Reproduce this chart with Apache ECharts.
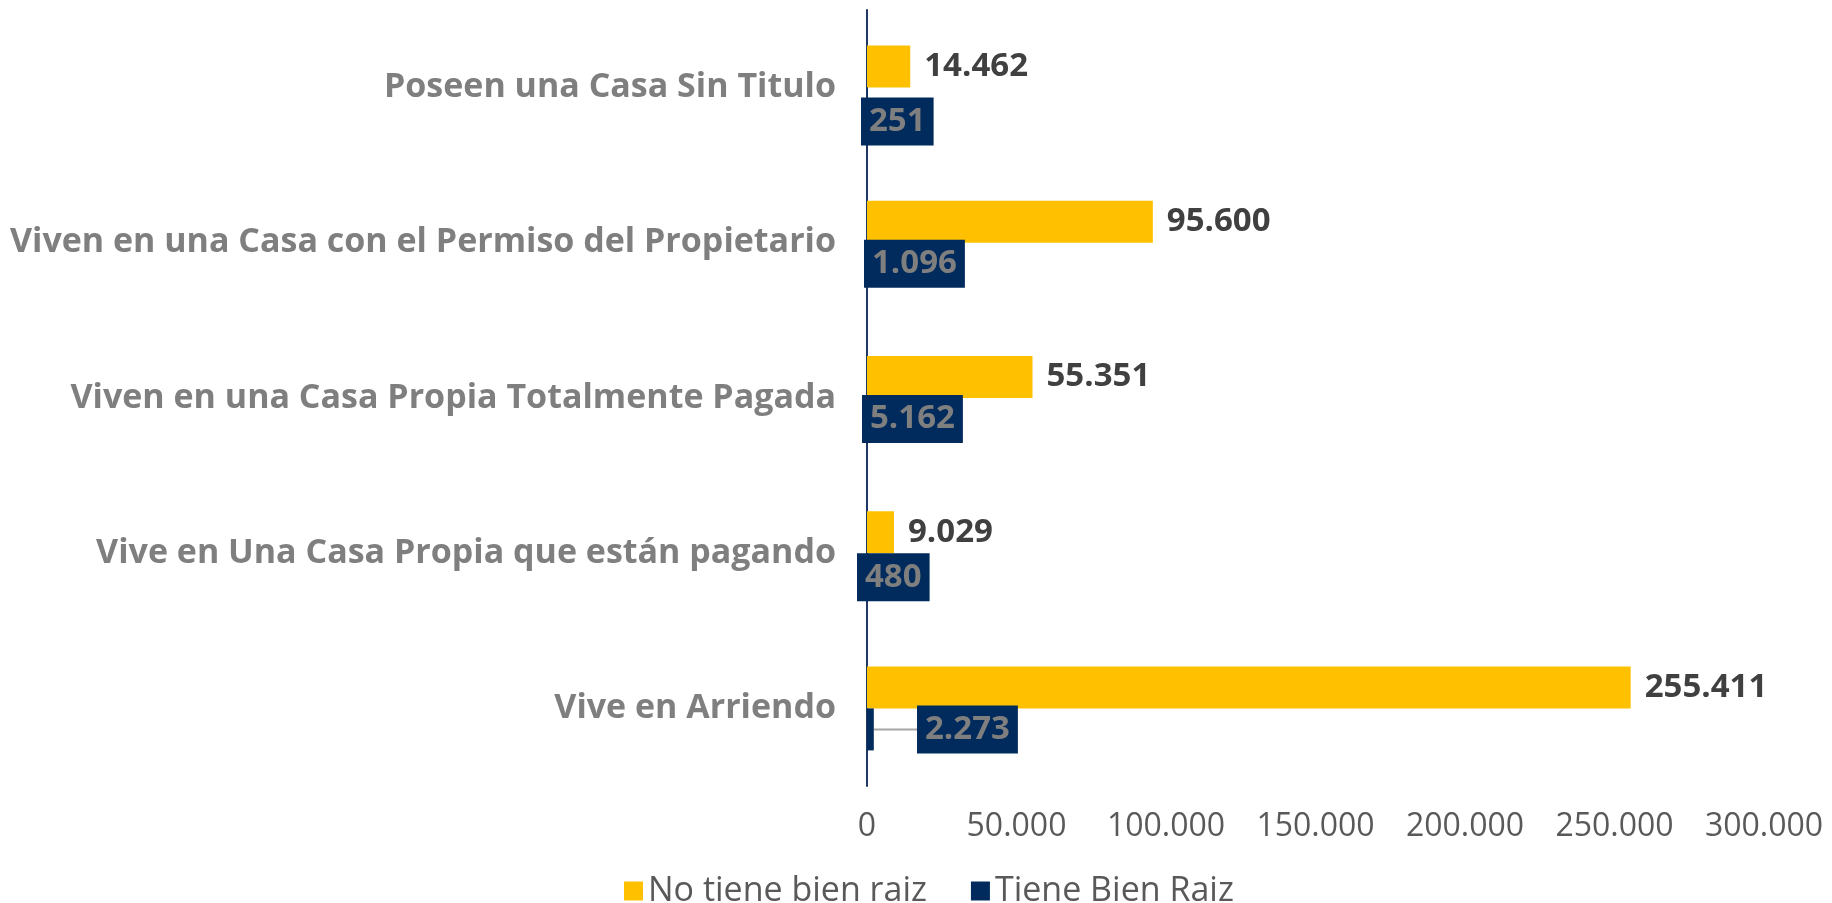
<!DOCTYPE html>
<html>
<head>
<meta charset="utf-8">
<script src="https://cdn.jsdelivr.net/npm/echarts@6/dist/echarts.min.js"></script>
<style>
html,body{margin:0;padding:0;background:#fff;}
#chart{width:1832px;height:903px;}
</style>
</head>
<body>
<div id="chart"></div>
<script>
const categories = [
  'Poseen una Casa Sin Titulo',
  'Viven en una Casa con el Permiso del Propietario',
  'Viven en una Casa Propia Totalmente Pagada',
  'Vive en Una Casa Propia que están pagando',
  'Vive en Arriendo'
];
const seriesNames = ['No tiene bien raiz', 'Tiene Bien Raiz'];
const noTieneValues = [14462, 95600, 55351, 9029, 255411];
const tieneValues = [251, 1096, 5162, 480, 2273];
const xTicks = [0, 50000, 100000, 150000, 200000, 250000, 300000];

const FONT = 'Open Sans';
const YELLOW = '#ffc000';
const NAVY = '#012b5c';
const BAR_W = 42;

// label placement tweaks (pixels) for the navy data-label boxes
const navyLabelShift = [[-6, 13], [-3, 0], [-5, 0], [-10, 3], [50, 0]];

function fmt(v) {
  return String(v).replace(/\B(?=(\d{3})+(?!\d))/g, '.');
}

const tieneData = tieneValues.map(function (v, i) {
  const s = navyLabelShift[i];
  const item = { value: v, label: { position: [s[0], BAR_W / 2 + s[1]] } };
  if (i === 4) {
    item.labelLine = { show: true, lineStyle: { color: '#a6a6a6', width: 2 } };
  }
  return item;
});

const chart = echarts.init(document.getElementById('chart'));
chart.setOption({
  animation: false,
  backgroundColor: '#ffffff',
  grid: { left: 867, right: 68, top: 10, bottom: 117, containLabel: false },
  legend: {
    data: seriesNames,
    left: 619,
    top: 869,
    icon: 'rect',
    itemWidth: 19,
    itemHeight: 19,
    itemGap: 44,
    textStyle: { fontFamily: FONT, fontSize: 34, color: '#595959' }
  },
  xAxis: {
    type: 'value',
    min: xTicks[0],
    max: xTicks[xTicks.length - 1],
    interval: xTicks[1] - xTicks[0],
    axisLine: { show: false },
    axisTick: { show: false },
    splitLine: { show: false },
    axisLabel: {
      margin: 25,
      fontFamily: FONT,
      fontSize: 32,
      color: '#595959',
      formatter: function (v) { return fmt(v); }
    }
  },
  yAxis: {
    type: 'category',
    data: categories,
    inverse: true,
    axisLine: { show: true, lineStyle: { color: '#1f3763', width: 2 } },
    axisTick: { show: false },
    splitLine: { show: false },
    axisLabel: {
      margin: 31,
      fontFamily: FONT,
      fontSize: 34,
      fontWeight: 'bold',
      color: '#7f7f7f'
    }
  },
  series: [
    {
      name: seriesNames[0],
      type: 'bar',
      data: noTieneValues,
      barWidth: BAR_W,
      barGap: '0%',
      itemStyle: { color: YELLOW },
      label: {
        show: true,
        position: 'right',
        distance: 14,
        fontFamily: FONT,
        fontSize: 33,
        fontWeight: 'bold',
        color: '#404040',
        formatter: function (p) { return fmt(p.value); }
      }
    },
    {
      name: seriesNames[1],
      type: 'bar',
      data: tieneData,
      barWidth: BAR_W,
      barGap: '0%',
      itemStyle: { color: NAVY },
      label: {
        show: true,
        align: 'left',
        verticalAlign: 'middle',
        fontFamily: FONT,
        fontSize: 33,
        fontWeight: 'bold',
        color: '#7f7f7f',
        backgroundColor: NAVY,
        lineHeight: 36,
        padding: [6, 8],
        formatter: function (p) { return fmt(p.value); }
      }
    }
  ]
});
</script>
</body>
</html>
